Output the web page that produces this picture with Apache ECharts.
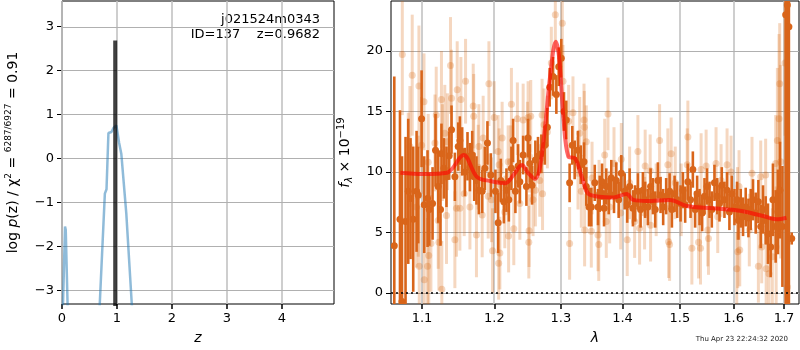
<!DOCTYPE html>
<html>
<head>
<meta charset="utf-8">
<title>p(z) and spectrum</title>
<script src="https://cdn.jsdelivr.net/npm/echarts@6/dist/echarts.min.js"></script>
<style>
  html, body { margin: 0; padding: 0; background: #fff; }
  #chart { width: 800px; height: 350px; }
</style>
</head>
<body>
<div id="chart"></div>
<script>
// left panel: log p(z)
var zGrid = [0.0, 0.055, 0.068, 0.105, 0.13, 0.4, 0.6, 0.65, 0.687, 0.78, 0.81, 0.845, 0.87, 0.9, 0.92, 0.94, 0.97, 0.99, 1.01, 1.04, 1.08, 1.17, 1.27, 1.35];
var logPz = [-4.2, -1.55, -1.62, -3.5, -4.8, -8, -6, -4.3, -3.31, -0.8, -0.7, 0.58, 0.62, 0.6, 0.57, 0.7, 0.73, 0.75, 0.72, 0.35, 0.1, -1.25, -3.31, -4.6];
var zBest = 0.9682;
var zBarTop = 2.68;
var zRange = [0, 4.95];
var pRange = [-3.31, 3.58];
var zTicks = [0, 1, 2, 3, 4];
var pTicks = [-3, -2, -1, 0, 1, 2, 3];

// right panel: spectrum (dark = primary, light = secondary)
var darkWave = [1.0640, 1.0713, 1.0739, 1.0785, 1.0820, 1.0850, 1.0885, 1.0929, 1.0951, 1.0995, 1.1030, 1.1074, 1.1097, 1.1141, 1.1181, 1.1217, 1.1248, 1.1261, 1.1294, 1.1329, 1.1366, 1.1398, 1.1444, 1.1490, 1.1513, 1.1545, 1.1583, 1.1619, 1.1653, 1.1685, 1.1713, 1.1745, 1.1779, 1.1826, 1.1864, 1.1901, 1.1950, 1.2016, 1.2055, 1.2094, 1.2138, 1.2176, 1.2211, 1.2249, 1.2274, 1.2308, 1.2348, 1.2374, 1.2423, 1.2472, 1.2497, 1.2523, 1.2557, 1.2607, 1.2647, 1.2698, 1.2750, 1.2790, 1.2826, 1.2878, 1.2929, 1.2966, 1.3006, 1.3048, 1.3084, 1.3137, 1.3179, 1.3217, 1.3270, 1.3313, 1.3366, 1.3403, 1.3447, 1.3484, 1.3540, 1.3593, 1.3621, 1.3659, 1.3692, 1.3729, 1.3769, 1.3812, 1.3857, 1.3895, 1.3935, 1.3979, 1.4036, 1.4079, 1.4120, 1.4176, 1.4215, 1.4261, 1.4307, 1.4347, 1.4386, 1.4433, 1.4480, 1.4521, 1.4561, 1.4608, 1.4655, 1.4701, 1.4754, 1.4815, 1.4856, 1.4904, 1.4951, 1.5012, 1.5054, 1.5095, 1.5144, 1.5193, 1.5235, 1.5277, 1.5314, 1.5358, 1.5406, 1.5450, 1.5498, 1.5543, 1.5586, 1.5636, 1.5685, 1.5731, 1.5774, 1.5825, 1.5875, 1.5920, 1.5965, 1.6017, 1.6067, 1.6094, 1.6138, 1.6183, 1.6235, 1.6288, 1.6333, 1.6378, 1.6431, 1.6484, 1.6530, 1.6576, 1.6629, 1.6675, 1.6729, 1.6775, 1.6830, 1.6876, 1.6918, 1.6967, 1.7034, 1.7068, 1.7100, 1.7158];
var darkFlux = [3.9, 6.1, -0.7, 5.9, 8.4, 7.8, 6.1, 8.4, 8.1, 14.4, 7.3, 7.8, 6.9, 7.4, 11.8, 8.8, 6.9, 11.5, 10.3, 9.6, 11.35, 13.5, 9.6, 12.1, 12.6, 11.7, 10.0, 11.3, 10.4, 11.4, 9.6, 9.3, 8.5, 8.4, 10.3, 12.4, 9.75, 8.4, 5.8, 9.3, 7.55, 8.5, 7.7, 10.3, 12.6, 8.4, 10.5, 9.2, 11.4, 8.8, 12.8, 10.7, 8.9, 11.0, 11.3, 11.5, 12.2, 13.7, 17.0, 17.9, 16.4, 18.7, 19.4, 15.0, 14.3, 9.1, 12.2, 11.0, 11.8, 10.6, 10.85, 8.8, 7.1, 7.1, 9.1, 7.1, 8.2, 9.2, 7.0, 8.8, 8.0, 9.5, 8.1, 9.3, 7.7, 9.9, 8.4, 7.3, 8.8, 7.0, 7.4, 8.4, 6.9, 8.5, 7.7, 7.1, 8.8, 8.0, 6.9, 9.3, 8.1, 7.1, 8.0, 8.4, 6.9, 8.2, 7.7, 7.4, 8.5, 7.3, 9.2, 7.7, 10.2, 6.9, 8.2, 7.1, 6.6, 8.0, 8.8, 7.7, 6.9, 9.1, 8.0, 7.4, 8.9, 7.7, 8.5, 6.7, 8.2, 7.1, 7.7, 6.0, 7.0, 6.3, 7.1, 6.2, 6.9, 7.7, 6.6, 7.55, 5.5, 6.9, 6.0, 4.9, 3.8, 7.7, 5.5, 6.7, 8.5, 5.5, 23.0, 23.8, 22.0, 4.5];
var darkErr = [14, 9, 12, 7, 6, 5, 6, 5, 4, 4, 4, 4, 3, 3, 3, 3, 3, 2.5, 2.5, 2.5, 2, 2, 2, 2, 2, 2, 2, 2, 2, 2, 2, 2, 2, 1.8, 1.8, 1.8, 1.8, 1.8, 2.5, 1.8, 1.8, 1.8, 1.8, 1.8, 1.8, 1.8, 1.8, 1.8, 1.6, 1.6, 1.6, 1.6, 1.6, 1.6, 1.6, 1.6, 1.6, 1.6, 1.6, 1.6, 1.6, 1.6, 1.6, 1.6, 1.6, 1.6, 1.6, 1.6, 1.6, 1.6, 1.6, 1.6, 1.6, 1.6, 1.5, 1.5, 1.5, 1.5, 1.5, 1.5, 1.5, 1.5, 1.5, 1.5, 1.5, 1.5, 1.5, 1.5, 1.5, 1.5, 1.5, 1.5, 1.5, 1.5, 1.5, 1.5, 1.5, 1.5, 1.5, 1.5, 1.5, 1.5, 1.5, 1.5, 1.5, 1.5, 1.5, 1.5, 1.5, 1.5, 1.5, 1.5, 1.5, 1.5, 1.5, 1.5, 1.5, 1.5, 1.5, 1.5, 1.5, 1.5, 1.5, 1.5, 1.5, 1.5, 1.5, 1.5, 1.5, 1.5, 1.5, 1.6, 1.6, 1.6, 1.6, 1.6, 1.7, 1.7, 1.7, 1.8, 1.8, 2, 2, 2.5, 2.5, 3, 3, 3.5, 4, 5, 25, 25, 25, 0.5];

var lightWave = [1.0743, 1.0820, 1.0842, 1.0872, 1.0929, 1.0951, 1.0960, 1.0964, 1.0995, 1.1027, 1.1030, 1.1074, 1.1083, 1.1090, 1.1119, 1.1173, 1.1190, 1.1217, 1.1226, 1.1261, 1.1266, 1.1274, 1.1306, 1.1329, 1.1342, 1.1384, 1.1398, 1.1444, 1.1466, 1.1476, 1.1513, 1.1527, 1.1573, 1.1592, 1.1653, 1.1699, 1.1706, 1.1745, 1.1769, 1.1779, 1.1826, 1.1840, 1.1912, 1.1922, 1.1959, 1.1974, 1.1998, 1.2055, 1.2063, 1.2070, 1.2080, 1.2113, 1.2152, 1.2201, 1.2208, 1.2240, 1.2249, 1.2284, 1.2337, 1.2374, 1.2423, 1.2487, 1.2497, 1.2508, 1.2512, 1.2517, 1.2537, 1.2572, 1.2607, 1.2674, 1.2709, 1.2716, 1.2739, 1.2790, 1.2851, 1.2913, 1.3022, 1.3033, 1.3122, 1.3137, 1.3190, 1.3270, 1.3297, 1.3323, 1.3366, 1.3371, 1.3376, 1.3403, 1.3484, 1.3496, 1.3593, 1.3605, 1.3610, 1.3703, 1.3729, 1.3757, 1.3785, 1.3857, 1.3969, 1.3979, 1.4079, 1.4120, 1.4205, 1.4261, 1.4290, 1.4376, 1.4386, 1.4473, 1.4480, 1.4578, 1.4638, 1.4784, 1.4797, 1.4815, 1.4843, 1.4916, 1.5023, 1.5132, 1.5144, 1.5217, 1.5340, 1.5376, 1.5387, 1.5480, 1.5511, 1.5524, 1.5666, 1.5698, 1.5761, 1.5875, 1.5951, 1.6061, 1.6075, 1.6080, 1.6105, 1.6119, 1.6305, 1.6358, 1.6484, 1.6530, 1.6550, 1.6629, 1.6639, 1.6695, 1.6763, 1.6830, 1.6840, 1.6865, 1.6898, 1.6912, 1.6932, 1.7020, 1.7068];
var lightFlux = [19.7, 9.9, 12.1, 18.0, 7.1, 8.0, 17.1, 2.2, 12.2, 15.8, 1.1, 2.2, 10.8, 3.1, 4.1, 12.4, 14.7, 6.0, 4.2, 16.0, 0.3, 11.6, 13.2, 6.4, 12.5, 18.8, 16.1, 4.4, 7.0, 16.8, 7.0, 16.0, 8.2, 17.5, 7.1, 15.45, 14.6, 4.8, 10.4, 12.1, 6.45, 12.8, 8.0, 17.3, 7.7, 3.5, 14.5, 11.7, 2.45, 10.6, 3.3, 12.8, 6.7, 10.85, 4.7, 10.85, 15.6, 5.3, 14.4, 7.4, 14.3, 12.8, 14.5, 4.2, 5.15, 11.3, 14.6, 7.7, 8.5, 9.3, 14.7, 8.2, 13.9, 13.3, 19.0, 23.0, 22.3, 17.5, 14.2, 4.1, 14.9, 9.9, 13.2, 8.4, 14.3, 13.7, 5.2, 12.5, 5.1, 9.5, 4.8, 4.0, 8.0, 11.4, 5.9, 14.8, 7.1, 10.7, 6.6, 11.05, 4.4, 9.1, 5.9, 11.7, 5.35, 6.6, 10.5, 10.1, 5.6, 7.7, 12.6, 10.6, 4.24, 4.0, 11.5, 9.1, 7.7, 10.6, 12.9, 3.7, 4.2, 3.7, 10.2, 10.5, 5.2, 4.5, 10.7, 6.3, 9.3, 10.6, 10.0, 2.0, 7.4, 3.4, 8.8, 3.55, 5.2, 9.9, 2.2, 9.6, 3.8, 9.75, 2.0, 1.6, 3.0, 10.7, 3.8, 12.6, 14.4, 17.3, 10.85, 19.0, 0.5];
var lightErr = [5, 5, 5, 5, 5, 5, 5, 5, 4, 4, 4, 4, 4, 4, 4, 4, 4, 4, 4, 4, 4, 4, 4, 4, 4, 4, 4, 4, 4, 4, 3.5, 3.5, 3.5, 3.5, 3.5, 3.5, 3.5, 3.5, 3.5, 3.5, 3.5, 3.5, 3.5, 3.5, 3.5, 3.5, 3, 3, 3, 3, 3, 3, 3, 3, 3, 3, 3, 3, 3, 3, 3, 3, 3, 3, 3, 3, 3, 3, 3, 3, 3, 3, 3, 3, 3, 3, 3, 3, 3, 3, 3, 3, 3, 3, 3, 3, 3, 3, 3, 3, 3, 3, 3, 3, 3, 3, 3, 3, 3, 3, 3, 3, 3, 3, 3, 3, 3, 3, 3, 3, 3, 3, 3, 3, 3, 3, 3, 3, 3, 3, 3, 3, 3, 3, 3, 3, 3, 3, 3, 3, 3, 3, 3, 3, 3, 3, 3, 3, 3, 3, 3, 3, 3, 3.5, 4, 4, 5, 6, 7, 5, 8, 6];

var modelWave = [1.0718, 1.1020, 1.1335, 1.1564, 1.1750, 1.1940, 1.2157, 1.2280, 1.2403, 1.2500, 1.2603, 1.2678, 1.2755, 1.2832, 1.2920, 1.2972, 1.3038, 1.3117, 1.3223, 1.3330, 1.3464, 1.3846, 1.4070, 1.4180, 1.4410, 1.4820, 1.5120, 1.5610, 1.6120, 1.6577, 1.6845, 1.7050];
var modelFlux = [9.94, 9.83, 9.94, 11.4, 9.6, 9.25, 9.07, 9.75, 10.58, 9.9, 9.42, 10.44, 13.74, 17.9, 20.77, 19.5, 14.6, 11.27, 11.13, 9.6, 8.1, 7.9, 8.18, 7.69, 7.6, 7.69, 7.19, 7.0, 6.8, 6.36, 6.09, 6.22];

var lamRange = [1.0598, 1.7309];
var fRange = [-0.91, 24.13];
var lamTicks = [1.1, 1.2, 1.3, 1.4, 1.5, 1.6, 1.7];
var fTicks = [0, 5, 10, 15, 20];

var FONT = 'DejaVu Sans';
var ORANGE = '#d9651a';
var PEACH = 'rgba(217,95,2,0.25)';
var GRIDC = '#b0b0b0';

function minus(v) { return String(v).replace('-', '\u2212'); }

function errBars(color, lw, r) {
  return function (params, api) {
    var x = api.value(0), y = api.value(1), e = api.value(2);
    var lo = api.coord([x, y - e]), hi = api.coord([x, y + e]), c = api.coord([x, y]);
    return {
      type: 'group',
      children: [
        { type: 'line', shape: { x1: lo[0], y1: lo[1], x2: hi[0], y2: hi[1] }, style: { stroke: color, lineWidth: lw } },
        { type: 'circle', shape: { cx: c[0], cy: c[1], r: r }, style: { fill: color } }
      ]
    };
  };
}

// vertical grid line through the point's x
function vGrid(params, api) {
  var cs = params.coordSys;
  var x = Math.round(api.coord([api.value(0), api.value(1)])[0]);
  return { type: 'line', shape: { x1: x, y1: cs.y, x2: x, y2: cs.y + cs.height }, style: { stroke: '#c2c2c2', lineWidth: 1.6 } };
}
// horizontal grid line through the point's y
function hGrid(params, api) {
  var cs = params.coordSys;
  var y = Math.round(api.coord([api.value(0), api.value(1)])[1]) + 0.5;
  return { type: 'line', shape: { x1: cs.x, y1: y, x2: cs.x + cs.width, y2: y }, style: { stroke: GRIDC, lineWidth: 1 } };
}

function toLog(wave, vals, errs) {
  return wave.map(function (w, i) {
    return errs ? [Math.log(w), vals[i], errs[i]] : [Math.log(w), vals[i]];
  });
}

var tickX = { show: true, inside: false, length: 5, lineStyle: { color: '#000', width: 1.5 } };
var tickY = { show: true, inside: false, length: 5, lineStyle: { color: '#000', width: 1 } };
var lbl = { color: '#000', fontFamily: FONT, fontSize: 13 };
var noLine = { show: false, onZero: false };
var lnLam = [Math.log(lamRange[0]), Math.log(lamRange[1])];
var lnTicks = lamTicks.map(Math.log);

var chart = echarts.init(document.getElementById('chart'));
chart.setOption({
  animation: false,
  backgroundColor: '#fff',
  grid: [
    { left: 62, top: 1, width: 272, height: 303, show: true, borderColor: '#000', outerBoundsMode: 'none' },
    { left: 391, top: 1, width: 408, height: 303, show: true, borderColor: '#000', outerBoundsMode: 'none' }
  ],
  xAxis: [
    {
      gridIndex: 0, type: 'value', min: zRange[0], max: zRange[1],
      axisLine: noLine, splitLine: { show: false },
      axisTick: Object.assign({ customValues: zTicks }, tickX),
      axisLabel: Object.assign({ customValues: zTicks, margin: 8 }, lbl),
      name: 'z', nameLocation: 'middle', nameGap: 27,
      nameTextStyle: { fontFamily: FONT, fontSize: 14, fontStyle: 'italic', color: '#000' }
    },
    {
      gridIndex: 1, type: 'value', min: lnLam[0], max: lnLam[1],
      axisLine: noLine, splitLine: { show: false },
      axisTick: Object.assign({ customValues: lnTicks }, tickX),
      axisLabel: Object.assign({
        customValues: lnTicks, margin: 8,
        formatter: function (v) { return Math.exp(v).toFixed(1); }
      }, lbl),
      name: 'λ', nameLocation: 'middle', nameGap: 27,
      nameTextStyle: { fontFamily: FONT, fontSize: 14, fontStyle: 'italic', color: '#000' }
    }
  ],
  yAxis: [
    {
      gridIndex: 0, type: 'value', min: pRange[0], max: pRange[1],
      axisLine: noLine, splitLine: { show: false },
      axisTick: Object.assign({ customValues: pTicks }, tickY),
      axisLabel: Object.assign({ customValues: pTicks, margin: 8, formatter: minus }, lbl),
      name: '{a|log }{i|p}{a|(z) / χ}{s|2}{a| = }{s|6287/6927}{a| = 0.91}',
      nameLocation: 'middle', nameRotate: 90, nameGap: 40,
      nameTextStyle: {
        fontFamily: FONT, color: '#000',
        rich: {
          a: { fontFamily: FONT, fontSize: 14, color: '#000', lineHeight: 18 },
          i: { fontFamily: FONT, fontSize: 14, fontStyle: 'italic', color: '#000', lineHeight: 18 },
          s: { fontFamily: FONT, fontSize: 9, color: '#000', verticalAlign: 'top', lineHeight: 18 }
        }
      }
    },
    {
      gridIndex: 1, type: 'value', min: fRange[0], max: fRange[1],
      axisLine: noLine, splitLine: { show: false },
      axisTick: Object.assign({ customValues: fTicks }, tickY),
      axisLabel: Object.assign({ customValues: fTicks, margin: 8 }, lbl),
      name: '{i|f}{b|λ}{a| × 10}{s|\u221219}',
      nameLocation: 'middle', nameRotate: 90, nameGap: 37,
      nameTextStyle: {
        fontFamily: FONT, color: '#000',
        rich: {
          a: { fontFamily: FONT, fontSize: 14, color: '#000', lineHeight: 18 },
          i: { fontFamily: FONT, fontSize: 14, fontStyle: 'italic', color: '#000', lineHeight: 18 },
          b: { fontFamily: FONT, fontSize: 10, fontStyle: 'italic', color: '#000', verticalAlign: 'bottom', lineHeight: 18 },
          s: { fontFamily: FONT, fontSize: 10, color: '#000', verticalAlign: 'top', lineHeight: 18 }
        }
      }
    }
  ],
  series: [
    { type: 'custom', xAxisIndex: 0, yAxisIndex: 0, renderItem: vGrid, data: zTicks.map(function (v) { return [v, 0]; }) },
    { type: 'custom', xAxisIndex: 0, yAxisIndex: 0, renderItem: hGrid, data: pTicks.map(function (v) { return [1, v]; }) },
    { type: 'custom', xAxisIndex: 1, yAxisIndex: 1, renderItem: vGrid, data: lnTicks.map(function (v) { return [v, 5]; }) },
    { type: 'custom', xAxisIndex: 1, yAxisIndex: 1, renderItem: hGrid, data: fTicks.map(function (v) { return [lnTicks[3], v]; }) },
    {
      type: 'line', xAxisIndex: 0, yAxisIndex: 0, clip: true, showSymbol: false,
      data: zGrid.map(function (z, i) { return [z, logPz[i]]; }),
      lineStyle: { color: 'rgba(31,119,180,0.5)', width: 2.5 }
    },
    {
      type: 'line', xAxisIndex: 0, yAxisIndex: 0, clip: true, showSymbol: false,
      data: [[zBest, -4], [zBest, zBarTop]],
      lineStyle: { color: 'rgba(0,0,0,0.75)', width: 4 }
    },
    {
      type: 'custom', xAxisIndex: 1, yAxisIndex: 1, clip: true,
      renderItem: errBars(PEACH, 3, 3.5),
      data: toLog(lightWave, lightFlux, lightErr)
    },
    {
      type: 'custom', xAxisIndex: 1, yAxisIndex: 1, clip: true,
      renderItem: errBars(ORANGE, 2.6, 3.5),
      data: toLog(darkWave, darkFlux, darkErr)
    },
    {
      type: 'line', xAxisIndex: 1, yAxisIndex: 1, clip: true, showSymbol: false, smooth: 0.35,
      data: toLog(modelWave, modelFlux),
      lineStyle: { color: 'rgba(255,0,0,0.6)', width: 4 }
    },
    {
      type: 'line', xAxisIndex: 1, yAxisIndex: 1, showSymbol: false, data: [],
      markLine: {
        silent: true, symbol: 'none', label: { show: false },
        lineStyle: { color: '#000', type: [2, 3], width: 1.5 },
        data: [[{ coord: [lnLam[0], 0] }, { coord: [lnLam[1], 0] }]]
      }
    }
  ],
  graphic: [
    { type: 'text', x: 320, y: 20, style: { text: 'j021524m0343', align: 'right', verticalAlign: 'middle', font: '13px "DejaVu Sans"', fill: '#000' } },
    { type: 'text', x: 320, y: 35, style: { text: 'ID=137    z=0.9682', align: 'right', verticalAlign: 'middle', font: '13px "DejaVu Sans"', fill: '#000' } },
    { type: 'text', x: 788, y: 339, style: { text: 'Thu Apr 23 22:24:32 2020', align: 'right', verticalAlign: 'middle', font: '7px "DejaVu Sans"', fill: '#222' } }
  ]
});
</script>
</body>
</html>
